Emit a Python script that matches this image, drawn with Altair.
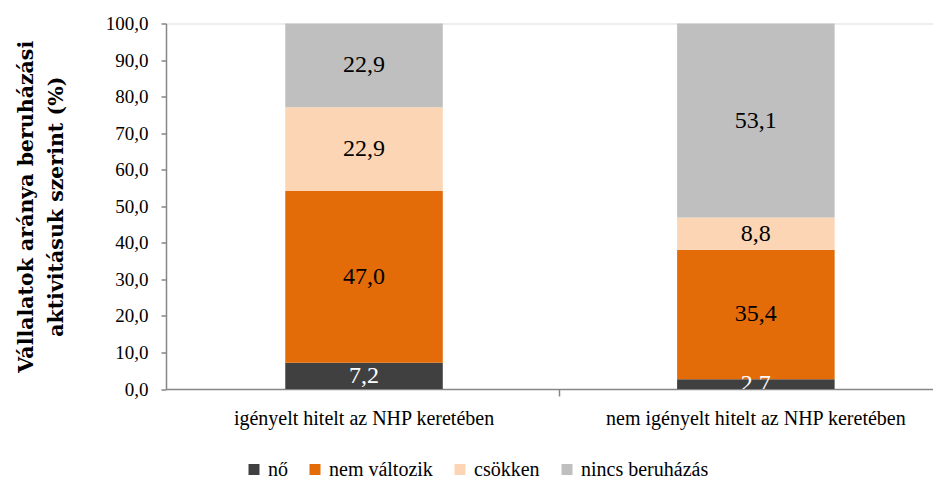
import altair as alt
import pandas as pd

groups = ["igényelt hitelt az NHP keretében", "nem igényelt hitelt az NHP keretében"]
categories = ["nő", "nem változik", "csökken", "nincs beruházás"]
values_igenyelt = [7.2, 47.0, 22.9, 22.9]
values_nem_igenyelt = [2.7, 35.4, 8.8, 53.1]
colors = ["#404040", "#E36C09", "#FCD5B5", "#BFBFBF"]
y_ticks = [0, 10, 20, 30, 40, 50, 60, 70, 80, 90, 100]
y_title = ["Vállalatok aránya beruházási", "aktivitásuk szerint (%)"]

rows = []
for g, vals in zip(groups, [values_igenyelt, values_nem_igenyelt]):
    for i, (c, v) in enumerate(zip(categories, vals)):
        rows.append({"group": g, "cat": c, "value": v, "order": i})
df = pd.DataFrame(rows)

FONT = "Liberation Serif"
AXIS_COLOR = "#868686"

xscale = alt.Scale(type="band", paddingInner=0.598, paddingOuter=0.2777, align=0.548, round=False)
yscale = alt.Scale(domain=[0, 100], nice=False, zero=True)

yaxis = alt.Axis(
    values=y_ticks,
    labelExpr="replace(format(datum.value, '.1f'), '.', ',')",
    grid=False,
    domainColor=AXIS_COLOR, domainWidth=1.5,
    tickColor=AXIS_COLOR, tickWidth=1.5, tickSize=5,
    labelFont=FONT, labelFontSize=19, labelColor="#000000", labelPadding=13,
    title=y_title,
    titleFont="DejaVu Serif", titleFontSize=20.5, titleFontWeight="bold",
    titleColor="#000000", titleAngle=270, titleX=-134, titleY=182.75,
    titleAlign="center", titleBaseline="alphabetic", titleLineHeight=30,
)

base = alt.Chart(df).transform_stack(
    stack="value", groupby=["group"], as_=["y0", "y1"],
    sort=[alt.SortField("order", order="ascending")],
).transform_calculate(
    mid="(datum.y0 + datum.y1) / 2",
    lbl="replace(format(datum.value, '.1f'), '.', ',')",
)

bars = base.mark_bar().encode(
    x=alt.X("group:N", scale=xscale, sort=groups,
            axis=alt.Axis(orient="bottom", title=None, ticks=False, labelAngle=0,
                          labelFont=FONT, labelFontSize=20, labelColor="#000000",
                          labelLimit=0, labelPadding=19,
                          domainColor=AXIS_COLOR, domainWidth=1.5)),
    y=alt.Y("y0:Q", scale=yscale, axis=yaxis),
    y2="y1:Q",
    color=alt.Color("cat:N", scale=alt.Scale(domain=categories, range=colors),
                    legend=alt.Legend(orient="none", legendX=78, legendY=436,
                                      direction="horizontal", title=None,
                                      symbolType="square", symbolSize=121,
                                      symbolStrokeWidth=0, labelFont=FONT,
                                      labelFontSize=20, labelColor="#000000",
                                      labelLimit=0,
                                      columnPadding=17, labelOffset=4, padding=0)),
    order=alt.Order("order:Q"),
)

text = base.mark_text(font=FONT, fontSize=24, clip=True, baseline="middle").encode(
    x=alt.X("group:N", scale=xscale, sort=groups,
            axis=alt.Axis(orient="bottom", values=[groups[0]], bandPosition=1.74,
                          labels=False, domain=False, ticks=True, tickSize=7,
                          tickColor=AXIS_COLOR, tickWidth=1.5, title=None, grid=False)),
    y=alt.Y("mid:Q", scale=yscale, axis=yaxis),
    text="lbl:N",
    color=alt.condition("datum.cat == 'nő'", alt.value("#FFFFFF"), alt.value("#000000")),
)

chart = alt.layer(bars, text).resolve_axis(x="independent").properties(
    width=767, height=365.5,
    autosize=alt.AutoSizeParams(type="none"),
    padding={"left": 158, "top": 15.5, "right": 0, "bottom": 91},
).configure_view(stroke=None).configure(background="#FFFFFF")

chart.save("out.html", embed_options={"renderer": "svg", "actions": False})
